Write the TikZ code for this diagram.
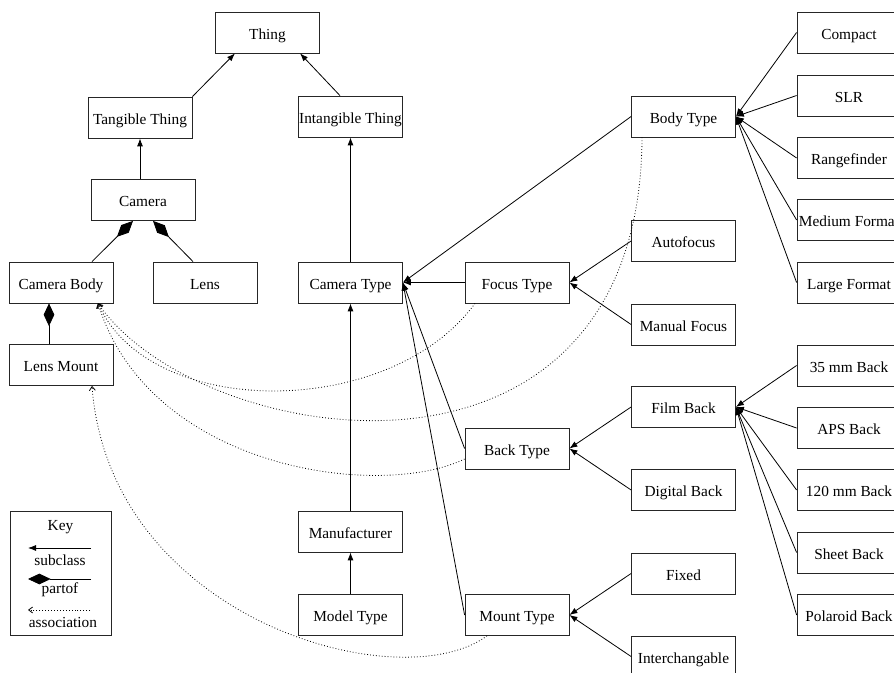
\documentclass[tikz,border=0pt]{standalone}
\usepackage{fontspec}
\setmainfont{Liberation Serif}
\usetikzlibrary{arrows.meta,calc}
\begin{document}
\begin{tikzpicture}[x=0.75pt,y=-0.75pt,
  box/.style={draw=black!85,line width=0.6pt,minimum width=78pt,minimum height=30.75pt,inner sep=0pt,text height=10.4pt,text depth=0pt,font=\fontsize{11.5}{13}\selectfont},
  lbl/.style={inner sep=0pt,font=\fontsize{11.5}{13}\selectfont},
  sub/.style={line width=0.6pt,-{Latex[length=6pt,width=4.5pt]}},
  part/.style={line width=0.6pt,-{Diamond[length=17pt,width=8pt]}},
  assoc/.style={line width=0.6pt,dash pattern=on 0.6pt off 1.6pt,-{Straight Barb[length=3pt,width=4.5pt]}},
]
\useasboundingbox (0,0) rectangle (894,673);
\clip (0,0) rectangle (894,673);

% nodes
\node[box] (thing) at (267.5,32.5) {Thing};
\node[box] (tangible) at (140,117.5) {Tangible Thing};
\node[box] (intangible) at (350.5,116.5) {Intangible Thing};
\node[box] (camera) at (143,200) {Camera};
\node[box] (cbody) at (61,282.5) {Camera Body};
\node[box] (lens) at (205,282.5) {Lens};
\node[box] (lmount) at (61,365) {Lens Mount};
\node[box] (ctype) at (350.5,282.5) {Camera Type};
\node[box] (manuf) at (350.5,531.5) {Manufacturer};
\node[box] (model) at (350.5,615) {Model Type};
\node[box] (focus) at (517,282.5) {Focus Type};
\node[box] (back) at (517,448.5) {Back Type};
\node[box] (mount) at (517,615) {Mount Type};
\node[box] (body) at (683.5,116.5) {Body Type};
\node[box] (autofocus) at (683.5,241) {Autofocus};
\node[box] (manual) at (683.5,324.5) {Manual Focus};
\node[box] (film) at (683.5,407) {Film Back};
\node[box] (digital) at (683.5,490) {Digital Back};
\node[box] (fixed) at (683.5,573.5) {Fixed};
\node[box] (inter) at (683.5,656.5) {Interchangable};
\node[box] (compact) at (849,32.5) {Compact};
\node[box] (slr) at (849,95.5) {SLR};
\node[box] (range) at (849,158) {Rangefinder};
\node[box] (medium) at (849,220) {Medium Format};
\node[box] (large) at (849,282.5) {Large Format};
\node[box] (b35) at (849,365.5) {35 mm Back};
\node[box] (aps) at (849,428) {APS Back};
\node[box] (b120) at (849,490) {120 mm Back};
\node[box] (sheet) at (849,552.5) {Sheet Back};
\node[box] (polaroid) at (849,615) {Polaroid Back};

% subclass edges
\draw[sub] (tangible.north east) -- ([xshift=-24.4pt]thing.south);
\draw[sub] ([xshift=-7.9pt]intangible.north) -- ([xshift=24.4pt]thing.south);
\draw[sub] (tangible.south |- camera.north) -- (tangible.south);
\draw[sub] (ctype.north) -- (intangible.south);
\draw[sub] (manuf.north) -- (ctype.south);
\draw[sub] (model.north) -- (manuf.south);
\draw[sub] (body.west) -- (ctype.east);
\draw[sub] (focus.west) -- (ctype.east);
\draw[sub] (back.west) -- (ctype.east);
\draw[sub] (mount.west) -- (ctype.east);
\draw[sub] (autofocus.west) -- (focus.east);
\draw[sub] (manual.west) -- (focus.east);
\draw[sub] (film.west) -- (back.east);
\draw[sub] (digital.west) -- (back.east);
\draw[sub] (fixed.west) -- (mount.east);
\draw[sub] (inter.west) -- (mount.east);
\foreach \n in {compact,slr,range,medium,large}
  \draw[sub] (\n.west) -- (body.east);
\foreach \n in {b35,aps,b120,sheet,polaroid}
  \draw[sub] (\n.west) -- (film.east);

% partof edges
\draw[part] ([xshift=23.25pt]cbody.north) -- ([xshift=-7.5pt]camera.south);
\draw[part] ([xshift=-9pt]lens.north) -- ([xshift=7.5pt]camera.south);
\draw[part] ([xshift=-9pt]lmount.north) -- ([xshift=-9pt]cbody.south);

% association edges
\draw[assoc] ([xshift=-31.5pt]focus.south) .. controls (390,420) and (150,420) .. ([xshift=27.75pt]cbody.south);
\draw[assoc] ([xshift=-31.1pt]body.south) .. controls (640,520) and (200,450) .. ([xshift=27.75pt]cbody.south);
\draw[assoc] ([yshift=-7.9pt]back.west) .. controls (380,500) and (150,470) .. ([xshift=27.75pt]cbody.south);
\draw[assoc] ([xshift=-22.5pt]mount.south) .. controls (400,700) and (110,620) .. ([xshift=23.25pt]lmount.south);

% key
\node[draw=black!85,line width=0.6pt,minimum width=75.75pt,minimum height=93pt,inner sep=0pt] (keybox) at (60.5,573) {};
\node[lbl] (keyt) at (60.5,527) {Key};
\coordinate (ka1) at (28,548); \coordinate (kb1) at (91,548);
\draw[sub] (kb1) -- (ka1);
\node[lbl] (ksub) at (60,560) {subclass};
\coordinate (ka2) at (28,579); \coordinate (kb2) at (91,579);
\draw[part] (kb2) -- (ka2);
\node[lbl] (kpart) at (60,590) {partof};
\coordinate (ka3) at (28,610); \coordinate (kb3) at (90,610);
\draw[assoc] (kb3) -- (ka3);
\node[lbl] (kassoc) at (63,623) {association};
\end{tikzpicture}
\end{document}
